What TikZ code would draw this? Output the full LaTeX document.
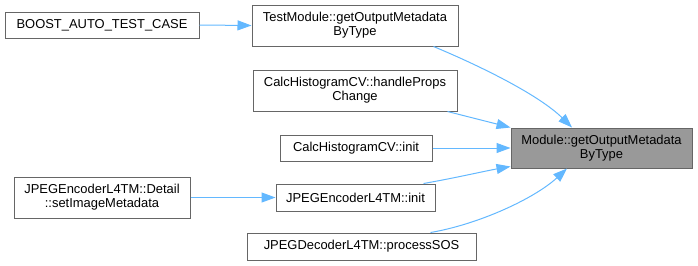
\documentclass[tikz,border=0pt]{standalone}
\usepackage{fontspec}
\setmainfont{Liberation Sans}
\usetikzlibrary{arrows.meta,calc}
\definecolor{edgeblue}{HTML}{63B8FF}
\definecolor{boxline}{HTML}{666666}
\definecolor{hilite}{HTML}{999999}
\begin{document}
\begin{tikzpicture}[x=0.75pt,y=-0.75pt,
  fn/.style={draw=boxline, line width=0.75pt, fill=white, inner sep=0pt,
    align=center, font=\fontsize{9.7}{10.6}\selectfont, text=black},
  sz/.style 2 args={minimum width=#1*0.75pt, minimum height=#2*0.75pt},
  call/.style={draw=edgeblue, line width=0.75pt,
    -{Triangle[length=10.5pt,width=7.5pt]}}]
\useasboundingbox (0,0) rectangle (698,265);

% callee
\node[fn, fill=hilite, sz={181}{40}] (module) at (601.5,148) {Module::getOutputMetadata\\ByType};

% direct callers
\node[fn, sz={206}{41}] (test)  at (355,25.5)  {TestModule::getOutputMetadata\\ByType};
\node[fn, sz={204}{41}] (hist)  at (355,90.5)  {CalcHistogramCV::handleProps\\Change};
\node[fn, sz={152}{26}] (hinit) at (356,148)   {CalcHistogramCV::init};
\node[fn, sz={159}{27}] (jinit) at (355.5,197.5) {JPEGEncoderL4TM::init};
\node[fn, sz={229}{27}] (dec)   at (361.5,246.5) {JPEGDecoderL4TM::processSOS};

% second-level callers
\node[fn, sz={194}{26}] (boost)  at (102,25)    {BOOST\_AUTO\_TEST\_CASE};
\node[fn, sz={176}{41}] (detail) at (102,197.5) {JPEGEncoderL4TM::Detail\\::setImageMetadata};

% call edges
\draw[call] (boost.east) -- (test.west);
\draw[call] (detail.east) -- (detail.east -| jinit.west);
\draw[call] ($(test.south east)+(-25,0)$) .. controls (485,68) and (540,96) .. ($(module.north)+(-29.5,0)$);
\draw[call] ($(hist.south east)+(-10,0)$) -- (module.north west);
\draw[call] (hinit.east) -- (module.west);
\draw[call] ($(jinit.north east)+(-12,0)$) .. controls (455,178) and (485,171) .. ($(module.south west)+(0,-2)$);
\draw[call] ($(dec.north east)+(-46,0)$) .. controls (480,224) and (535,198) .. ($(module.south)+(-34.5,0)$);
\end{tikzpicture}
\end{document}
